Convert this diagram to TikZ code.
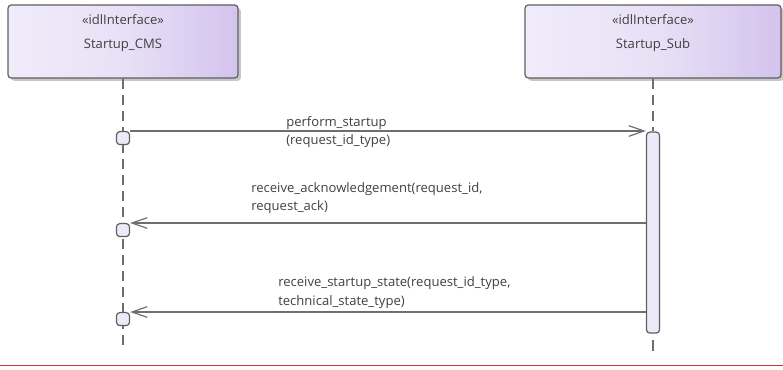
\documentclass[tikz,border=0pt]{standalone}
\usepackage{fontspec}
\setmainfont{Open Sans}
\usetikzlibrary{arrows.meta,calc,shadows}
\definecolor{linec}{HTML}{6E6E6E}
\definecolor{borderc}{HTML}{5F5F5F}
\definecolor{textc}{HTML}{404040}
\definecolor{boxl}{HTML}{F0ECFA}
\definecolor{boxm}{HTML}{E8E1F6}
\definecolor{boxr}{HTML}{D4C3EE}
\definecolor{actc}{HTML}{EDE9F8}
\definecolor{redc}{HTML}{C83A3A}
\begin{document}
\begin{tikzpicture}[x=0.75pt,y=-0.75pt,
  every node/.style={font=\fontsize{9.8}{14.2}\selectfont, text=textc},
  lifebox/.style={draw=borderc, line width=0.9pt, rounded corners=2.5pt,
    left color=boxl, right color=boxr, middle color=boxm,
    minimum height=54.75pt, inner sep=0pt,
    drop shadow={shadow xshift=2.2pt, shadow yshift=-2.2pt, fill=black, opacity=0.22}},
  lifeline/.style={draw=linec, line width=0.8pt, dash pattern=on 8pt off 4pt},
  actbar/.style={draw=borderc, line width=0.9pt, fill=actc, rounded corners=2.5pt,
    minimum width=9.75pt, minimum height=150.75pt, inner sep=0pt},
  execsq/.style={draw=borderc, line width=0.9pt, fill=actc, rounded corners=2.5pt,
    minimum width=9.75pt, minimum height=9.75pt, inner sep=0pt},
  msg/.style={draw=linec, line width=0.9pt, -{Straight Barb[length=11.5pt,width=8pt,line width=0.9pt]}},
  lbl/.style={inner sep=0pt, align=left, anchor=base west}
]
\useasboundingbox (0,0) rectangle (783,370);

% lifeline heads
\node[lifebox, minimum width=172.5pt] (cms) at (123,41.5) {};
\node[lifebox, minimum width=192pt] (sub) at (653,41.5) {};
\node[anchor=base, inner sep=0pt] (cmsst) at (123,24.5) {«idlInterface»};
\node[anchor=base, inner sep=0pt] (cmsnm) at (123,48.5) {Startup\_CMS};
\node[anchor=base, inner sep=0pt] (subst) at (653,24.5) {«idlInterface»};
\node[anchor=base, inner sep=0pt] (subnm) at (653,48.5) {Startup\_Sub};

% end points of lifelines
\coordinate (cmsend) at (123,349);
\coordinate (subgap) at (653,340);
\coordinate (subend) at (653,351);

% activation bar on Startup_Sub
\node[actbar, anchor=north] (act) at (653,131.5) {};

% lifelines
\draw[lifeline] (cms.south) -- (cmsend);
\draw[lifeline] (sub.south) -- (act.north);
\draw[lifeline] (subgap) -- (subend);

% execution squares on Startup_CMS
\node[execsq, anchor=north] (s1) at (123,131) {};
\node[execsq, anchor=north] (s2) at (123,223) {};
\node[execsq, anchor=north] (s3) at (123,312) {};

% messages
\draw[msg] (s1.north east) -- (act.west |- s1.north);
\draw[msg] (act.west |- s2.north) -- (s2.north east);
\draw[msg] (act.west |- s3.north) -- (s3.north east);

% message labels (anchored at the baseline of their last line)
\node[lbl] (m1) at (286,145) {perform\_startup\\(request\_id\_type)};
\node[lbl] (m2) at (251,211) {receive\_acknowledgement(request\_id,\\request\_ack)};
\node[lbl] (m3) at (278,305.5) {receive\_startup\_state(request\_id\_type,\\technical\_state\_type)};

% bottom frame line
\coordinate (bl) at (0,365.5);
\coordinate (br) at (783,365.5);
\draw[redc, line width=0.9pt] (bl) -- (br);
\end{tikzpicture}
\end{document}
